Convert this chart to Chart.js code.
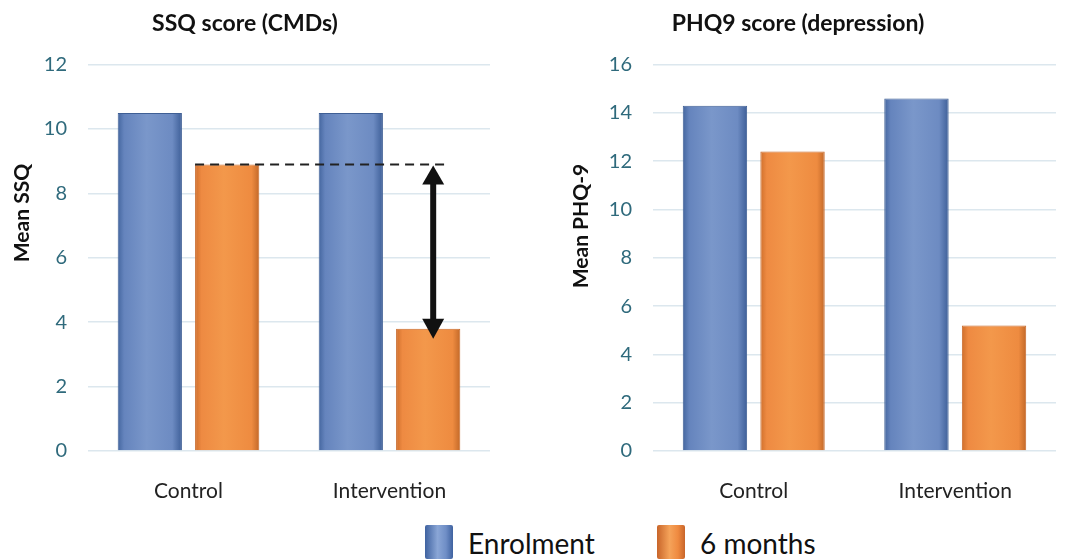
<!DOCTYPE html>
<html>
<head>
<meta charset="utf-8">
<script src="https://cdn.jsdelivr.net/npm/chart.js@4.4.1/dist/chart.umd.min.js"></script>
<style>
  body { margin: 0; background: #fff; width: 1077px; height: 560px; overflow: hidden; position: relative; font-family: Lato, sans-serif; }
  .box { position: absolute; top: 0; height: 515px; }
  #legend { position: absolute; top: 521px; left: 0; width: 1077px; height: 39px; }
  .item { position: absolute; top: 0; font-size: 28px; color: #111; line-height: 44px; }
  .swatch { position: absolute; top: 4px; width: 28px; height: 34px; border-radius: 2px; }
</style>
</head>
<body>
<div class="box" style="left:0;width:540px"><canvas id="ssqChart"></canvas></div>
<div class="box" style="left:540px;width:537px"><canvas id="phqChart"></canvas></div>
<div id="legend"></div>

<script>
//data
const groups = ['Control', 'Intervention'];
const seriesNames = ['Enrolment', '6 months'];
const ssqEnrolment = [10.5, 10.5];
const ssq6months = [8.9, 3.8];
const phqEnrolment = [14.3, 14.6];
const phq6months = [12.4, 5.2];
const ssqTicks = [0, 2, 4, 6, 8, 10, 12];
const phqTicks = [0, 2, 4, 6, 8, 10, 12, 14, 16];

const tealText = '#2f6a7c';

//gradients for the 3d-ish bars (need element position, so chart is updated twice)
function barFill(stops, flat) {
    return function(ctx) {
        const c = ctx.chart;
        const el = ctx.element;
        if (!c.chartArea || !el || !el.width) return flat;
        const x0 = el.x - el.width / 2, x1 = el.x + el.width / 2;
        const g = c.ctx.createLinearGradient(x0, 0, x1, 0);
        stops.forEach(s => g.addColorStop(s[0], s[1]));
        return g;
    };
}
const blueFill = barFill([[0, '#44669f'], [0.1, '#6584bd'], [0.45, '#7a97ca'], [0.85, '#6d8bc2'], [1, '#3e5f98']], '#6e8cc4');
const orangeFill = barFill([[0, '#cf6f2c'], [0.1, '#ee8a42'], [0.45, '#f3984b'], [0.88, '#ee8b40'], [1, '#c26828']], '#f0903e');

//rotated y title placed where the original had it
const sideTitle = {
    id: 'sideTitle',
    afterDraw(chart, args, opts) {
        const c = chart.ctx;
        c.save();
        c.translate(opts.x, opts.y);
        c.rotate(-Math.PI / 2);
        c.font = 'bold 21px Lato';
        c.fillStyle = '#111';
        c.textAlign = 'center';
        c.textBaseline = 'middle';
        c.fillText(opts.text, 0, 0);
        c.restore();
    }
};

//dashed reference line and double arrow on the SSQ chart
const diffArrow = {
    id: 'diffArrow',
    afterDatasetsDraw(chart) {
        const y = chart.scales.y;
        const meta = chart.getDatasetMeta(1);
        const ctrl = meta.data[0], intv = meta.data[1];
        const c = chart.ctx;
        const yTop = y.getPixelForValue(ssq6months[0]);
        const ax = intv.x + 5;
        c.save();
        c.strokeStyle = '#222';
        c.lineWidth = 2;
        c.setLineDash([9, 6]);
        c.beginPath();
        c.moveTo(ctrl.x - ctrl.width / 2, yTop);
        c.lineTo(intv.x + intv.width / 2 - 14, yTop);
        c.stroke();
        c.setLineDash([]);
        const yBot = y.getPixelForValue(ssq6months[1]) + 10;
        const head = 20, hw = 11;
        c.lineWidth = 6;
        c.strokeStyle = '#111';
        c.beginPath();
        c.moveTo(ax, yTop + head - 2);
        c.lineTo(ax, yBot - head + 2);
        c.stroke();
        c.fillStyle = '#111';
        c.beginPath();
        c.moveTo(ax, yTop + 1);
        c.lineTo(ax - hw, yTop + head);
        c.lineTo(ax + hw, yTop + head);
        c.closePath();
        c.fill();
        c.beginPath();
        c.moveTo(ax, yBot);
        c.lineTo(ax - hw, yBot - head);
        c.lineTo(ax + hw, yBot - head);
        c.closePath();
        c.fill();
        c.restore();
    }
};

function makeChart(id, title, enrol, six, ticks, maxV, yW, rightPad, titleOpts, extra) {
    const ctx = document.getElementById(id).getContext('2d');
    const chart = new Chart(ctx, {
        type: 'bar',
        data: {
            labels: groups,
            datasets: [
                { label: seriesNames[0], data: enrol, backgroundColor: blueFill, borderColor: '#3f5f95', borderWidth: 1 },
                { label: seriesNames[1], data: six, backgroundColor: orangeFill, borderColor: '#c8692a', borderWidth: 1 }
            ]
        },
        options: {
            responsive: true,
            maintainAspectRatio: false,
            animation: false,
            datasets: { bar: { barPercentage: 0.83, categoryPercentage: 0.77 } },
            layout: { padding: { right: rightPad, left: 0, top: 0, bottom: 0 } },
            scales: {
                x: {
                    grid: { display: false },
                    border: { display: false },
                    ticks: { color: '#222', font: { family: 'Lato', size: 21 }, padding: 20 },
                    afterFit(s) { s.height = 64; }
                },
                y: {
                    min: 0,
                    max: maxV,
                    afterBuildTicks(s) { s.ticks = ticks.map(v => ({ value: v })); },
                    grid: { color: '#dce7ee', lineWidth: 1.5, drawTicks: false },
                    border: { display: false },
                    ticks: { color: tealText, font: { family: 'Lato', size: 20 }, padding: 21 },
                    afterFit(s) { s.width = yW; }
                }
            },
            plugins: {
                legend: { display: false },
                tooltip: { enabled: false },
                title: {
                    display: true,
                    text: title,
                    color: '#111',
                    font: { family: 'Lato', size: 23, weight: 'bold' },
                    padding: { top: 10, bottom: 27 }
                },
                sideTitle: titleOpts
            }
        },
        plugins: [sideTitle].concat(extra)
    });
    chart.update('none');
    return chart;
}

makeChart('ssqChart', 'SSQ score (CMDs)', ssqEnrolment, ssq6months, ssqTicks, 12, 88, 50,
    { text: 'Mean SSQ', x: 22, y: 213 }, [diffArrow]);
makeChart('phqChart', 'PHQ9 score (depression)', phqEnrolment, phq6months, phqTicks, 16, 113, 21,
    { text: 'Mean PHQ-9', x: 41, y: 226 }, []);

//legend shared by both charts
const legend = document.getElementById('legend');
const swatchBg = [
    'linear-gradient(90deg,#3f62a0,#8aa6d6 45%,#6f8ec6 75%,#3f62a0)',
    'linear-gradient(90deg,#c8652a,#f5a35a 45%,#ef8a40 75%,#c8652a)'
];
const legendX = [425, 657];
seriesNames.forEach((name, i) => {
    const sw = document.createElement('div');
    sw.className = 'swatch';
    sw.style.left = legendX[i] + 'px';
    sw.style.background = swatchBg[i];
    legend.appendChild(sw);
    const t = document.createElement('div');
    t.className = 'item';
    t.style.left = (legendX[i] + 43) + 'px';
    t.textContent = name;
    legend.appendChild(t);
});
</script>
</body>
</html>
